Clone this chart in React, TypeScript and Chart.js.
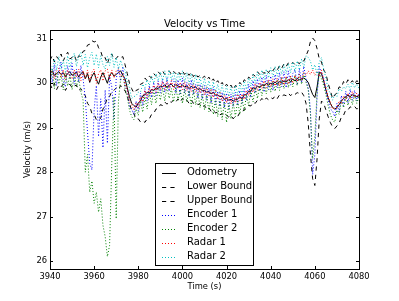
import React, { useEffect, useRef } from "react";
import { Chart, registerables } from "chart.js";

Chart.register(...registerables);

const TITLE = "Velocity vs Time";
const X_LABEL = "Time (s)";
const Y_LABEL = "Velocity (m/s)";

const X_TICKS = [3940, 3960, 3980, 4000, 4020, 4040, 4060, 4080];
const Y_TICKS = [26, 27, 28, 29, 30, 31];

const TIME = [
  3940, 3941, 3942, 3943, 3944, 3945, 3946, 3947, 3948, 3949,
  3950, 3951, 3952, 3953, 3954, 3955, 3956, 3957, 3958, 3959,
  3960, 3961, 3962, 3963, 3964, 3965, 3966, 3967, 3968, 3969,
  3970, 3971, 3972, 3973, 3974, 3975, 3976, 3977, 3978, 3979,
  3980, 3981, 3982, 3983, 3984, 3985, 3986, 3987, 3988, 3989,
  3990, 3991, 3992, 3993, 3994, 3995, 3996, 3997, 3998, 3999,
  4000, 4001, 4002, 4003, 4004, 4005, 4006, 4007, 4008, 4009,
  4010, 4011, 4012, 4013, 4014, 4015, 4016, 4017, 4018, 4019,
  4020, 4021, 4022, 4023, 4024, 4025, 4026, 4027, 4028, 4029,
  4030, 4031, 4032, 4033, 4034, 4035, 4036, 4037, 4038, 4039,
  4040, 4041, 4042, 4043, 4044, 4045, 4046, 4047, 4048, 4049,
  4050, 4051, 4052, 4053, 4054, 4055, 4056, 4057, 4058, 4059,
  4060, 4061, 4062, 4063, 4064, 4065, 4066, 4067, 4068, 4069,
  4070, 4071, 4072, 4073, 4074, 4075, 4076, 4077, 4078, 4079,
  4080,
];

const ODOMETRY = [
  30.22, 30.28, 30.18, 30.22, 30.26, 30.20, 30.24, 30.15, 30.22, 30.26,
  30.18, 30.22, 30.25, 30.14, 30.22, 30.26, 30.10, 30.22, 30.02, 30.16,
  30.24, 30.08, 29.98, 30.14, 30.24, 30.12, 30.00, 30.18, 30.24, 30.16,
  30.20, 30.24, 30.28, 30.18, 30.10, 29.90, 29.70, 29.55, 29.50, 29.46,
  29.56, 29.60, 29.72, 29.74, 29.80, 29.78, 29.86, 29.84, 29.90, 29.88,
  29.94, 29.92, 29.97, 29.91, 29.96, 29.98, 29.92, 29.97, 29.94, 29.92,
  29.96, 29.92, 29.94, 29.88, 29.93, 29.90, 29.92, 29.86, 29.88, 29.83,
  29.84, 29.80, 29.82, 29.76, 29.80, 29.73, 29.74, 29.70, 29.71, 29.64,
  29.66, 29.62, 29.64, 29.60, 29.64, 29.64, 29.70, 29.65, 29.74, 29.75,
  29.82, 29.82, 29.90, 29.88, 29.94, 29.91, 29.97, 29.94, 30.00, 29.96,
  30.00, 29.98, 30.03, 29.98, 30.04, 30.02, 30.05, 30.03, 30.08, 30.04,
  30.10, 30.05, 30.11, 30.08, 30.10, 30.12, 30.08, 30.02, 29.88, 29.75,
  29.68, 29.92, 30.25, 30.22, 30.05, 29.85, 29.68, 29.55, 29.46, 29.42,
  29.45, 29.52, 29.60, 29.66, 29.70, 29.73, 29.70, 29.74, 29.72, 29.70,
  29.72,
];

const LOWER_BOUND = [
  29.98, 29.88, 30.00, 29.86, 29.96, 29.92, 29.98, 29.84, 29.94, 29.98,
  29.90, 29.94, 29.96, 29.84, 29.88, 29.78, 29.72, 29.55, 29.48, 29.32,
  29.30, 29.18, 29.16, 29.22, 29.42, 29.52, 29.68, 29.70, 29.82, 29.84,
  29.90, 29.86, 29.95, 29.86, 29.84, 29.70, 29.56, 29.38, 29.32, 29.20,
  29.20, 29.13, 29.16, 29.12, 29.20, 29.20, 29.30, 29.32, 29.42, 29.43,
  29.52, 29.50, 29.58, 29.53, 29.60, 29.57, 29.63, 29.58, 29.65, 29.58,
  29.66, 29.59, 29.62, 29.55, 29.62, 29.55, 29.58, 29.52, 29.54, 29.47,
  29.50, 29.42, 29.45, 29.37, 29.40, 29.33, 29.36, 29.29, 29.32, 29.25,
  29.28, 29.24, 29.28, 29.20, 29.26, 29.25, 29.34, 29.33, 29.42, 29.42,
  29.50, 29.49, 29.57, 29.55, 29.62, 29.59, 29.66, 29.60, 29.67, 29.63,
  29.68, 29.65, 29.72, 29.66, 29.74, 29.71, 29.74, 29.72, 29.78, 29.72,
  29.78, 29.75, 29.79, 29.77, 29.80, 29.72, 29.55, 29.10, 28.40, 27.85,
  27.70, 28.30, 29.20, 29.60, 29.55, 29.40, 29.25, 29.12, 29.02, 28.98,
  29.04, 29.10, 29.24, 29.28, 29.40, 29.40, 29.47, 29.45, 29.48, 29.42,
  29.45,
];

const UPPER_BOUND = [
  30.52, 30.62, 30.48, 30.60, 30.54, 30.66, 30.50, 30.62, 30.70, 30.55,
  30.58, 30.64, 30.50, 30.62, 30.60, 30.72, 30.74, 30.86, 30.88, 30.96,
  30.93, 30.95, 30.80, 30.72, 30.56, 30.58, 30.44, 30.60, 30.66, 30.54,
  30.56, 30.62, 30.58, 30.60, 30.42, 30.22, 30.00, 29.88, 29.78, 29.84,
  29.86, 29.98, 30.00, 30.12, 30.06, 30.16, 30.12, 30.22, 30.16, 30.26,
  30.20, 30.28, 30.20, 30.26, 30.28, 30.20, 30.27, 30.22, 30.28, 30.20,
  30.28, 30.20, 30.26, 30.18, 30.25, 30.15, 30.22, 30.14, 30.18, 30.12,
  30.16, 30.08, 30.14, 30.04, 30.10, 30.00, 30.06, 29.96, 30.02, 29.92,
  29.98, 29.90, 29.96, 29.86, 29.95, 29.92, 30.02, 29.96, 30.08, 30.04,
  30.14, 30.10, 30.20, 30.16, 30.26, 30.20, 30.27, 30.22, 30.30, 30.24,
  30.32, 30.28, 30.36, 30.30, 30.40, 30.34, 30.44, 30.38, 30.46, 30.42,
  30.47, 30.42, 30.48, 30.44, 30.52, 30.50, 30.62, 30.74, 30.94, 31.02,
  30.96, 30.78, 30.55, 30.48, 30.30, 30.22, 30.00, 29.84, 29.66, 29.74,
  29.78, 29.92, 29.90, 30.04, 29.98, 30.08, 30.00, 30.06, 29.98, 30.06,
  30.02,
];

const ENCODER_1 = [
  30.38, 30.02, 30.42, 29.95, 30.30, 30.48, 30.05, 29.92, 30.40, 30.12,
  30.45, 29.98, 30.32, 30.02, 30.40, 30.10, 29.65, 28.90, 28.20, 28.05,
  29.40, 29.95, 28.80, 29.65, 28.55, 29.85, 28.65, 30.15, 29.92, 29.20,
  30.10, 30.35, 30.05, 30.38, 29.92, 29.85, 29.48, 29.42, 29.30, 29.60,
  29.38, 29.78, 29.50, 29.88, 29.60, 29.95, 29.68, 30.02, 29.72, 30.05,
  29.78, 30.10, 29.80, 30.12, 29.82, 30.05, 30.10, 29.78, 30.08, 29.74,
  30.12, 29.78, 30.02, 29.70, 30.08, 29.75, 29.98, 29.66, 29.98, 29.64,
  29.95, 29.62, 29.90, 29.55, 29.92, 29.52, 29.82, 29.48, 29.80, 29.45,
  29.78, 29.42, 29.76, 29.48, 29.80, 29.50, 29.84, 29.55, 29.88, 29.62,
  29.98, 29.68, 30.06, 29.78, 30.10, 29.82, 30.14, 29.80, 30.18, 29.86,
  30.16, 29.84, 30.20, 29.90, 30.24, 29.92, 30.26, 29.90, 30.28, 29.96,
  30.22, 30.30, 29.96, 30.32, 30.02, 30.38, 30.10, 29.90, 29.40, 27.95,
  28.40, 29.70, 30.38, 30.22, 30.12, 29.82, 29.62, 29.42, 29.38, 29.25,
  29.55, 29.35, 29.72, 29.50, 29.82, 29.56, 29.86, 29.62, 29.84, 29.60,
  29.78,
];

const ENCODER_2 = [
  30.05, 30.30, 29.88, 30.25, 29.98, 30.20, 29.85, 30.24, 29.94, 30.18,
  29.86, 30.20, 29.92, 30.10, 29.80, 29.62, 28.00, 28.40, 27.55, 27.80,
  27.30, 27.55, 27.10, 27.40, 26.80, 26.55, 26.10, 26.35, 28.20, 29.70,
  26.95, 29.60, 30.10, 30.22, 29.88, 29.70, 29.40, 29.25, 29.18, 29.42,
  29.28, 29.60, 29.35, 29.70, 29.42, 29.78, 29.52, 29.84, 29.55, 29.86,
  29.62, 29.90, 29.60, 29.94, 29.66, 29.88, 29.58, 29.92, 29.62, 29.86,
  29.55, 29.88, 29.58, 29.84, 29.48, 29.86, 29.52, 29.80, 29.45, 29.76,
  29.40, 29.74, 29.36, 29.72, 29.30, 29.66, 29.25, 29.64, 29.18, 29.58,
  29.12, 29.55, 29.20, 29.58, 29.25, 29.62, 29.30, 29.66, 29.38, 29.74,
  29.50, 29.84, 29.58, 29.90, 29.66, 29.95, 29.72, 30.00, 29.76, 30.04,
  29.80, 30.06, 29.82, 30.08, 29.84, 30.12, 29.88, 30.14, 29.90, 30.16,
  29.92, 30.18, 29.95, 30.20, 29.98, 30.22, 30.02, 29.85, 29.30, 28.30,
  28.80, 29.80, 30.25, 30.10, 29.95, 29.75, 29.50, 29.30, 29.18, 29.12,
  29.40, 29.30, 29.62, 29.45, 29.70, 29.50, 29.72, 29.52, 29.74, 29.55,
  29.70,
];

const RADAR_1 = [
  30.12, 30.32, 30.10, 30.28, 30.34, 30.14, 30.30, 30.08, 30.30, 30.16,
  30.10, 30.30, 30.14, 30.32, 30.06, 30.28, 30.10, 30.30, 30.05, 30.25,
  30.32, 30.00, 30.22, 30.30, 30.05, 30.28, 30.32, 30.08, 30.30, 30.12,
  30.28, 30.32, 30.15, 30.22, 29.98, 29.85, 29.58, 29.52, 29.40, 29.56,
  29.46, 29.70, 29.58, 29.84, 29.68, 29.90, 29.76, 29.96, 29.80, 30.00,
  29.85, 30.04, 29.86, 30.04, 29.88, 30.06, 29.86, 30.04, 29.88, 30.02,
  29.86, 30.04, 29.84, 30.00, 29.82, 30.00, 29.80, 29.98, 29.78, 29.94,
  29.74, 29.92, 29.72, 29.88, 29.68, 29.86, 29.64, 29.82, 29.60, 29.76,
  29.56, 29.74, 29.54, 29.72, 29.56, 29.76, 29.60, 29.76, 29.64, 29.84,
  29.72, 29.92, 29.80, 30.00, 29.84, 30.02, 29.88, 30.06, 29.90, 30.08,
  29.92, 30.10, 29.94, 30.11, 29.94, 30.14, 29.96, 30.16, 29.98, 30.16,
  30.00, 30.18, 30.04, 30.20, 30.06, 30.24, 30.18, 30.28, 30.20, 30.30,
  30.18, 30.28, 30.15, 30.30, 30.08, 29.92, 29.68, 29.58, 29.42, 29.45,
  29.44, 29.60, 29.54, 29.72, 29.62, 29.78, 29.65, 29.82, 29.68, 29.78,
  29.68,
];

const RADAR_2 = [
  30.46, 30.25, 30.55, 30.30, 30.60, 30.32, 30.52, 30.26, 30.62, 30.36,
  30.55, 30.68, 30.38, 30.62, 30.70, 30.40, 30.65, 30.35, 30.58, 30.70,
  30.40, 30.66, 30.35, 30.62, 30.42, 30.32, 30.60, 30.40, 30.68, 30.36,
  30.58, 30.32, 30.52, 30.35, 30.30, 30.02, 29.90, 29.66, 29.70, 29.72,
  29.80, 29.80, 29.98, 29.90, 30.08, 29.95, 30.16, 30.00, 30.22, 30.05,
  30.26, 30.06, 30.28, 30.04, 30.30, 30.08, 30.26, 30.02, 30.24, 30.05,
  30.28, 30.02, 30.24, 29.98, 30.22, 29.96, 30.20, 29.92, 30.14, 29.88,
  30.12, 29.86, 30.06, 29.82, 30.04, 29.78, 29.98, 29.75, 29.96, 29.72,
  29.94, 29.70, 29.92, 29.68, 29.95, 29.74, 29.98, 29.78, 30.05, 29.86,
  30.12, 29.94, 30.20, 30.00, 30.25, 30.06, 30.30, 30.08, 30.32, 30.12,
  30.35, 30.14, 30.38, 30.16, 30.40, 30.20, 30.42, 30.22, 30.45, 30.24,
  30.48, 30.26, 30.50, 30.30, 30.55, 30.36, 30.62, 30.58, 30.50, 30.30,
  30.42, 30.18, 30.48, 30.58, 30.32, 30.12, 29.86, 29.78, 29.62, 29.74,
  29.70, 29.88, 29.82, 29.92, 29.88, 29.98, 29.86, 30.02, 29.90, 29.98,
  29.88,
];

const SERIES_LABELS = ["Odometry", "Lower Bound", "Upper Bound", "Encoder 1", "Encoder 2", "Radar 1", "Radar 2"];
const SERIES_VALUES = [ODOMETRY, LOWER_BOUND, UPPER_BOUND, ENCODER_1, ENCODER_2, RADAR_1, RADAR_2];
const SERIES_COLORS = ["#000000", "#000000", "#000000", "#0000ff", "#008000", "#ff0000", "#00bfbf"];
const SERIES_DASH: number[][] = [[], [4.2, 4.2], [4.2, 4.2], [1, 2], [1, 2], [1, 2], [1, 2]];

const FONT = '"DejaVu Sans", sans-serif';

const overlayPlugin = {
  id: "overlay",
  afterDraw(chart: any) {
    const ctx = chart.ctx as CanvasRenderingContext2D;
    const { left, right, top, bottom } = chart.chartArea;
    const xs = chart.scales.x;
    const ys = chart.scales.y;
    ctx.save();
    ctx.strokeStyle = "#000";
    ctx.lineWidth = 1;
    ctx.setLineDash([]);
    ctx.beginPath();
    for (const v of X_TICKS) {
      const px = Math.round(xs.getPixelForValue(v)) + 0.5;
      ctx.moveTo(px, bottom);
      ctx.lineTo(px, bottom - 3);
      ctx.moveTo(px, top);
      ctx.lineTo(px, top + 3);
    }
    for (const v of Y_TICKS) {
      const py = Math.round(ys.getPixelForValue(v)) + 0.5;
      ctx.moveTo(left, py);
      ctx.lineTo(left + 3, py);
      ctx.moveTo(right, py);
      ctx.lineTo(right - 3, py);
    }
    ctx.stroke();
    ctx.strokeRect(Math.round(left) + 0.5, Math.round(top) + 0.5, Math.round(right - left), Math.round(bottom - top));
    ctx.fillStyle = "#000";
    ctx.font = `10px ${FONT}`;
    ctx.textAlign = "center";
    ctx.textBaseline = "alphabetic";
    ctx.fillText(TITLE, (left + right) / 2, 27);
    ctx.font = `8.33px ${FONT}`;
    ctx.textBaseline = "middle";
    ctx.fillText(X_LABEL, (left + right) / 2, 287);
    ctx.save();
    ctx.translate(28, (top + bottom) / 2);
    ctx.rotate(-Math.PI / 2);
    ctx.fillText(Y_LABEL, 0, 0);
    ctx.restore();
    const bx = 155.5, by = 163.5, bw = 98, bh = 102;
    ctx.fillStyle = "#fff";
    ctx.fillRect(bx, by, bw, bh);
    ctx.strokeStyle = "#000";
    ctx.lineWidth = 1;
    ctx.strokeRect(bx, by, bw, bh);
    ctx.font = `10px ${FONT}`;
    ctx.textAlign = "left";
    ctx.textBaseline = "middle";
    for (let i = 0; i < SERIES_LABELS.length; i++) {
      const ry = 172.7 + i * 14;
      ctx.strokeStyle = SERIES_COLORS[i];
      ctx.lineWidth = 1;
      ctx.setLineDash(SERIES_DASH[i]);
      ctx.beginPath();
      ctx.moveTo(162, Math.round(ry) + 0.5);
      ctx.lineTo(176, Math.round(ry) + 0.5);
      ctx.stroke();
      ctx.setLineDash([]);
      ctx.fillStyle = "#000";
      ctx.fillText(SERIES_LABELS[i], 187, ry);
    }
    ctx.restore();
  },
};

export default function App() {
  const ref = useRef<HTMLCanvasElement | null>(null);
  useEffect(() => {
    if (!ref.current) return;
    const datasets = SERIES_VALUES.map((vals, i) => ({
      label: SERIES_LABELS[i],
      data: TIME.map((t, j) => ({ x: t, y: vals[j] })),
      borderColor: SERIES_COLORS[i],
      backgroundColor: SERIES_COLORS[i],
      borderWidth: 1,
      borderDash: SERIES_DASH[i],
      pointRadius: 0,
      tension: 0,
      fill: false,
      order: SERIES_LABELS.length - i,
    }));
    const chart = new Chart(ref.current, {
      type: "line",
      data: { datasets },
      options: {
        animation: false,
        responsive: false,
        maintainAspectRatio: false,
        layout: { padding: { top: 30, right: 40, left: 0, bottom: 0 } },
        plugins: {
          legend: { display: false },
          title: { display: false },
          tooltip: { enabled: false },
        },
        scales: {
          x: {
            type: "linear",
            min: 3940,
            max: 4080,
            grid: { display: false, drawTicks: false },
            border: { display: false },
            afterBuildTicks: (s: any) => {
              s.ticks = X_TICKS.map((v) => ({ value: v }));
            },
            afterFit: (s: any) => {
              s.height = 32;
            },
            ticks: {
              color: "#000",
              font: { family: FONT, size: 8.33 },
              padding: 3,
              maxRotation: 0,
              autoSkip: false,
              callback: (v: any) => String(v),
            },
          },
          y: {
            type: "linear",
            min: 25.82,
            max: 31.2,
            grid: { display: false, drawTicks: false },
            border: { display: false },
            afterBuildTicks: (s: any) => {
              s.ticks = Y_TICKS.map((v) => ({ value: v }));
            },
            afterFit: (s: any) => {
              s.width = 50;
            },
            ticks: {
              color: "#000",
              font: { family: FONT, size: 8.33 },
              padding: 3,
              autoSkip: false,
              callback: (v: any) => String(v),
            },
          },
        },
      },
      plugins: [overlayPlugin],
    } as any);
    return () => chart.destroy();
  }, []);
  return (
    <div style={{ position: "fixed", left: 0, top: 0, width: 399, height: 301, background: "#fff" }}>
      <canvas ref={ref} width={399} height={301} style={{ display: "block" }} />
    </div>
  );
}
